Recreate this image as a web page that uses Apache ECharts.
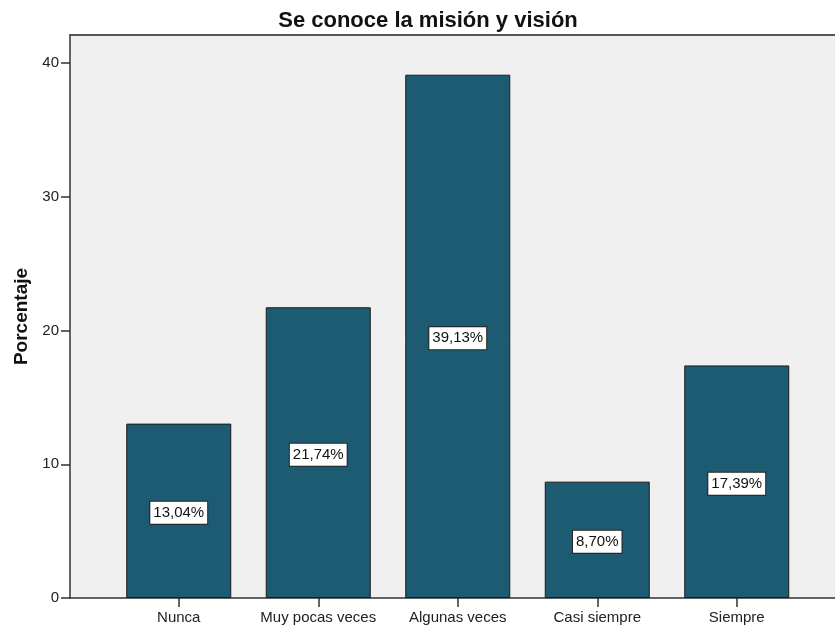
<!DOCTYPE html>
<html>
<head>
<meta charset="utf-8">
<script src="https://cdn.jsdelivr.net/npm/echarts@6/dist/echarts.min.js"></script>
<style>
html,body{margin:0;padding:0;background:#fff;}
#c{width:835px;height:633px;}
</style>
</head>
<body>
<div id="c"></div>
<script>
const categories = ['Nunca', 'Muy pocas veces', 'Algunas veces', 'Casi siempre', 'Siempre'];
const values = [13.04, 21.74, 39.13, 8.70, 17.39];
const yTicks = [0, 10, 20, 30, 40];
const titleText = 'Se conoce la misión y visión';
const yName = 'Porcentaje';

const chart = echarts.init(document.getElementById('c'));
const font = 'Liberation Sans, Arial, sans-serif';
const yMax = 42.1;
chart.setOption({
  animation: false,
  backgroundColor: '#ffffff',
  title: {
    text: titleText,
    left: 423, top: 5, textAlign: 'center',
    textStyle: {fontFamily: font, fontSize: 22, fontWeight: 'bold', color: '#111'}
  },
  grid: [
    {left: 70, right: 0, top: 35, bottom: 35, show: true, backgroundColor: '#f0f0f0', borderWidth: 0},
    {left: 109, right: 28.5, top: 35, bottom: 35}
  ],
  xAxis: [
    {type: 'value', gridIndex: 0, position: 'bottom', min: 0, max: 1,
      axisLine: {show: true, onZero: false, lineStyle: {color: '#333', width: 1.5}},
      axisTick: {show: false}, axisLabel: {show: false}, splitLine: {show: false}},
    {type: 'value', gridIndex: 0, position: 'top', min: 0, max: 1,
      axisLine: {show: true, onZero: false, lineStyle: {color: '#555', width: 2}},
      axisTick: {show: false}, axisLabel: {show: false}, splitLine: {show: false}},
    {type: 'category', gridIndex: 1, data: categories, position: 'bottom',
      axisLine: {show: false},
      axisTick: {show: true, alignWithLabel: true, length: 9, lineStyle: {color: '#333', width: 1.5}},
      axisLabel: {margin: 12, fontFamily: font, fontSize: 15, color: '#222', interval: 0}}
  ],
  yAxis: [
    {type: 'value', gridIndex: 0, min: 0, max: yMax, interval: 10,
      name: yName, nameLocation: 'middle', nameGap: 38, nameRotate: 90,
      nameTextStyle: {fontFamily: font, fontSize: 19, fontWeight: 'bold', color: '#111'},
      axisLine: {show: true, onZero: false, lineStyle: {color: '#333', width: 1.5}},
      axisTick: {show: true, length: 9, lineStyle: {color: '#333', width: 1.5}, customValues: yTicks},
      axisLabel: {margin: 11, fontFamily: font, fontSize: 15, color: '#222', customValues: yTicks},
      splitLine: {show: false}},
    {type: 'value', gridIndex: 1, min: 0, max: yMax, show: false}
  ],
  series: [{
    type: 'bar', xAxisIndex: 2, yAxisIndex: 1,
    data: values, barWidth: 105,
    itemStyle: {color: '#1d5b72', borderColor: '#1a1a1a', borderWidth: 1},
    label: {
      show: true, position: 'inside', offset: [0, 2],
      formatter: p => p.value.toFixed(2).replace('.', ',') + '%',
      fontFamily: font, fontSize: 15, color: '#111',
      backgroundColor: '#ffffff', borderColor: '#222', borderWidth: 1,
      padding: [4, 3, 3, 3]
    }
  }]
});
</script>
</body>
</html>
